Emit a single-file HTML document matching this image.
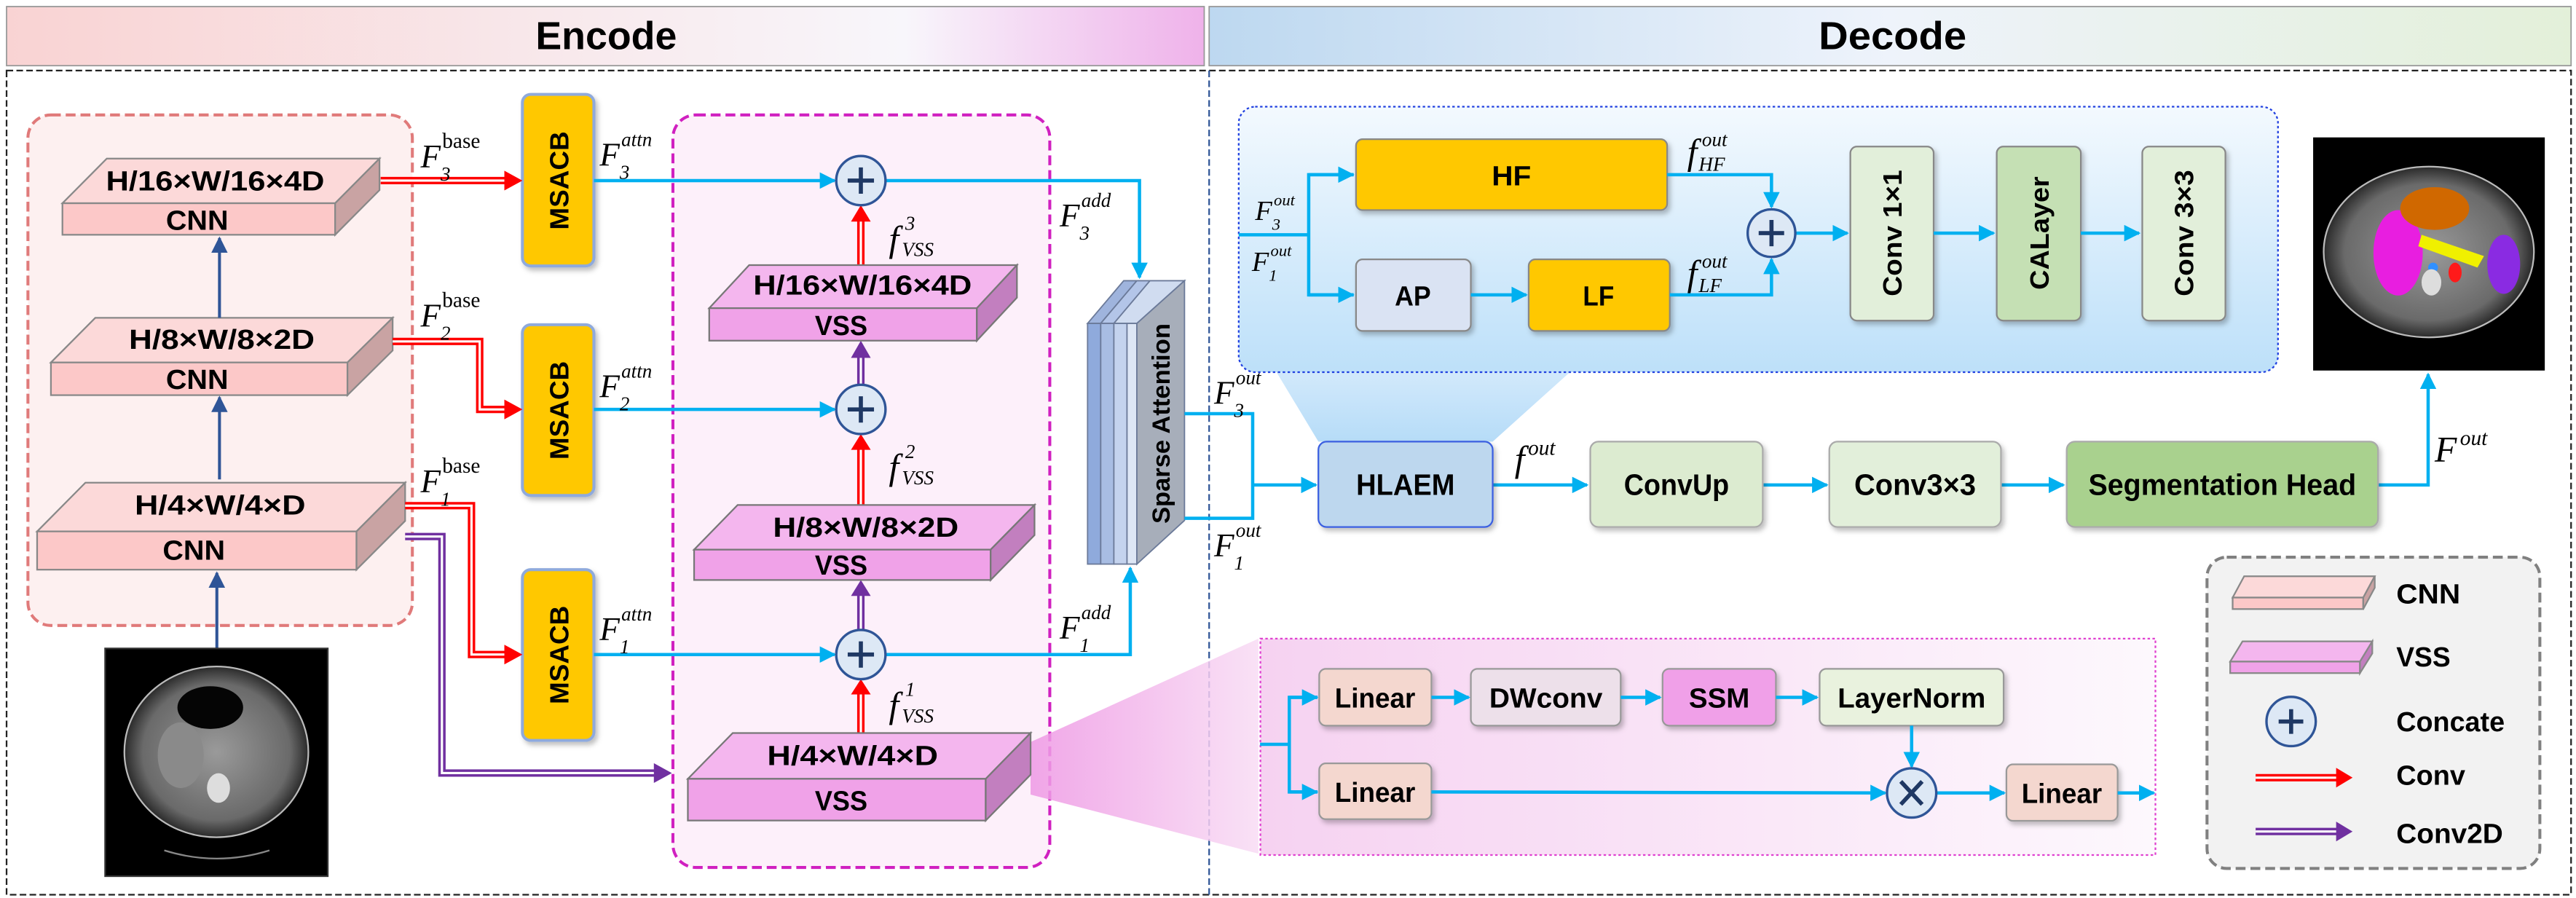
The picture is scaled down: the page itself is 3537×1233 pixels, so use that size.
<!DOCTYPE html>
<html><head><meta charset="utf-8"><style>
html,body{margin:0;padding:0;background:#fff}
svg{display:block}
.b{font-family:"Liberation Sans",sans-serif;font-weight:bold;fill:#000}
.m{font-family:"Liberation Serif",serif;font-style:italic;fill:#000}
</style></head><body>
<svg width="3537" height="1233" viewBox="0 0 1568 547" preserveAspectRatio="none" xmlns="http://www.w3.org/2000/svg">
<defs>
<linearGradient id="gE" x1="0" x2="1"><stop offset="0" stop-color="#f9d3d3"/><stop offset="0.75" stop-color="#f8f6fb"/><stop offset="1" stop-color="#efb2ea"/></linearGradient>
<linearGradient id="gD" x1="0" x2="1"><stop offset="0" stop-color="#bdd8f0"/><stop offset="0.5" stop-color="#eef3fb"/><stop offset="1" stop-color="#e3f0d9"/></linearGradient>
<linearGradient id="gH" x1="0" y1="0" x2="0" y2="1"><stop offset="0" stop-color="#f3f9fe"/><stop offset="1" stop-color="#bde0f9"/></linearGradient>
<linearGradient id="gM" x1="0" x2="1"><stop offset="0" stop-color="#f6d2f1"/><stop offset="1" stop-color="#fdf8fd"/></linearGradient>
<linearGradient id="gF" x1="0" x2="1"><stop offset="0" stop-color="#ee98e4"/><stop offset="1" stop-color="#f8dcf4"/></linearGradient>
<linearGradient id="gF2" x1="0" y1="1" x2="0" y2="0"><stop offset="0" stop-color="#b6dcf8"/><stop offset="1" stop-color="#d2e9fb"/></linearGradient>
<radialGradient id="gCT"><stop offset="0" stop-color="#9a9a9a"/><stop offset="0.8" stop-color="#6a6a6a"/><stop offset="1" stop-color="#2a2a2a"/></radialGradient>
<marker id="aB" markerWidth="10" markerHeight="10" refX="9" refY="5" orient="auto" markerUnits="userSpaceOnUse"><path d="M0,0 L10,5 L0,10 z" fill="#00b0f0"/></marker>
<marker id="aN" markerWidth="10" markerHeight="10" refX="9" refY="5" orient="auto" markerUnits="userSpaceOnUse"><path d="M0,0 L10,5 L0,10 z" fill="#2f5597"/></marker>
<filter id="sh" x="-10%" y="-10%" width="130%" height="140%"><feDropShadow dx="1.5" dy="2" stdDeviation="1.5" flood-color="#000" flood-opacity="0.25"/></filter>
</defs>

<rect x="4" y="4" width="729" height="36" fill="url(#gE)" stroke="#999" stroke-width="0.8"/>
<text class="b" x="369" y="30" font-size="24" text-anchor="middle" textLength="86" lengthAdjust="spacingAndGlyphs">Encode</text>
<rect x="736" y="4" width="829" height="36" fill="url(#gD)" stroke="#999" stroke-width="0.8"/>
<text class="b" x="1152" y="30" font-size="24" text-anchor="middle" textLength="90" lengthAdjust="spacingAndGlyphs">Decode</text>
<rect x="4" y="43" width="1561" height="502" fill="none" stroke="#222" stroke-width="1" stroke-dasharray="4,2"/>
<line x1="736" y1="43" x2="736" y2="545" stroke="#2f5597" stroke-width="1" stroke-dasharray="4,2"/>

<rect x="17" y="70" width="234" height="311" rx="14" fill="#fdf0f0" stroke="#e07a7a" stroke-width="1.8" stroke-dasharray="6,3"/>
<polygon points="38,123.8 65,96.6 231,96.6 204,123.8" fill="#fcd9d9" stroke="#888" stroke-width="1"/>
<rect x="38" y="123.8" width="166" height="19.2" fill="#fcc8c8" stroke="#888" stroke-width="1"/>
<polygon points="204,123.8 231,96.6 231,115.8 204,143" fill="#c9a3a3" stroke="#888" stroke-width="1"/>
<text class="b" x="131" y="116" font-size="17" text-anchor="middle" textLength="133" lengthAdjust="spacingAndGlyphs">H/16×W/16×4D</text>
<text class="b" x="120" y="140" font-size="17" text-anchor="middle" textLength="38" lengthAdjust="spacingAndGlyphs">CNN</text>
<polygon points="31,220.8 58,193.6 239,193.6 211.5,220.8" fill="#fcd9d9" stroke="#888" stroke-width="1"/>
<rect x="31" y="220.8" width="180.5" height="19.9" fill="#fcc8c8" stroke="#888" stroke-width="1"/>
<polygon points="211.5,220.8 239,193.6 239,213.5 211.5,240.7" fill="#c9a3a3" stroke="#888" stroke-width="1"/>
<text class="b" x="135" y="212.5" font-size="17" text-anchor="middle" textLength="113" lengthAdjust="spacingAndGlyphs">H/8×W/8×2D</text>
<text class="b" x="120" y="237" font-size="17" text-anchor="middle" textLength="38" lengthAdjust="spacingAndGlyphs">CNN</text>
<polygon points="22.6,323.7 52,294 246.6,294 217,323.7" fill="#fcd9d9" stroke="#888" stroke-width="1"/>
<rect x="22.6" y="323.7" width="194.4" height="23.3" fill="#fcc8c8" stroke="#888" stroke-width="1"/>
<polygon points="217,323.7 246.6,294 246.6,317.3 217,347" fill="#c9a3a3" stroke="#888" stroke-width="1"/>
<text class="b" x="134" y="313.5" font-size="17" text-anchor="middle" textLength="104" lengthAdjust="spacingAndGlyphs">H/4×W/4×D</text>
<text class="b" x="118" y="341" font-size="17" text-anchor="middle" textLength="38" lengthAdjust="spacingAndGlyphs">CNN</text>
<line x1="133.6" y1="193.6" x2="133.6" y2="145" stroke="#2f5597" stroke-width="1.8" marker-end="url(#aN)"/>
<line x1="133.6" y1="292" x2="133.6" y2="242" stroke="#2f5597" stroke-width="1.8" marker-end="url(#aN)"/>
<line x1="132" y1="395" x2="132" y2="349" stroke="#2f5597" stroke-width="1.8" marker-end="url(#aN)"/>
<rect x="64" y="395" width="135.5" height="138.7" fill="#000" stroke="#333"/>
<ellipse cx="131.7" cy="458" rx="56" ry="52" fill="url(#gCT)"/>
<ellipse cx="131.7" cy="458" rx="56" ry="52" fill="none" stroke="#bbb" stroke-width="1"/>
<ellipse cx="128" cy="431" rx="20" ry="13" fill="#050505"/>
<ellipse cx="110" cy="460" rx="14" ry="20" fill="#8a8a8a"/>
<ellipse cx="133" cy="480" rx="7" ry="9" fill="#ddd"/>
<path d="M100,518 Q132,528 164,518" stroke="#888" fill="none"/>

<g filter="url(#sh)">
<rect x="318" y="57.5" width="43.5" height="104.5" rx="5" fill="#ffc800" stroke="#8faadc" stroke-width="1.8"/>
<rect x="318" y="197.8" width="43.5" height="104" rx="5" fill="#ffc800" stroke="#8faadc" stroke-width="1.8"/>
<rect x="318" y="347" width="43.5" height="104" rx="5" fill="#ffc800" stroke="#8faadc" stroke-width="1.8"/>
</g>
<text class="b" font-size="16" text-anchor="middle" transform="translate(346,110) rotate(-90)" textLength="60" lengthAdjust="spacingAndGlyphs">MSACB</text>
<text class="b" font-size="16" text-anchor="middle" transform="translate(346,250) rotate(-90)" textLength="60" lengthAdjust="spacingAndGlyphs">MSACB</text>
<text class="b" font-size="16" text-anchor="middle" transform="translate(346,399) rotate(-90)" textLength="60" lengthAdjust="spacingAndGlyphs">MSACB</text>

<g fill="none" stroke-linejoin="miter">
<path d="M231.7,110 H310" stroke="#ff0000" stroke-width="4.5"/><path d="M231.7,110 H310" stroke="#fff" stroke-width="1.4"/>
<path d="M239,208 H292 V249.4 H310" stroke="#ff0000" stroke-width="4.5"/><path d="M239,208 H292 V249.4 H310" stroke="#fff" stroke-width="1.4"/>
<path d="M246.6,308 H287 V398.7 H310" stroke="#ff0000" stroke-width="4.5"/><path d="M246.6,308 H287 V398.7 H310" stroke="#fff" stroke-width="1.4"/>
<path d="M246.6,326.8 H269 V470.9 H401" stroke="#7030a0" stroke-width="4.5"/><path d="M246.6,326.8 H269 V470.9 H401" stroke="#fff" stroke-width="1.4"/>
</g>
<path d="M307,104 L318,110 L307,116z" fill="#ff0000"/>
<path d="M307,243.4 L318,249.4 L307,255.4z" fill="#ff0000"/>
<path d="M307,392.7 L318,398.7 L307,404.7z" fill="#ff0000"/>
<path d="M398,464.9 L409,470.9 L398,476.9z" fill="#7030a0"/>

<text class="m" x="256" y="102" font-size="20">F<tspan font-size="12" dy="8">3</tspan><tspan font-size="13" font-style="normal" dx="-5" dy="-20">base</tspan></text>
<text class="m" x="256" y="199" font-size="20">F<tspan font-size="12" dy="8">2</tspan><tspan font-size="13" font-style="normal" dx="-5" dy="-20">base</tspan></text>
<text class="m" x="256" y="300" font-size="20">F<tspan font-size="12" dy="8">1</tspan><tspan font-size="13" font-style="normal" dx="-5" dy="-20">base</tspan></text>

<rect x="409.6" y="70" width="229.4" height="458.4" rx="14" fill="#fdf0fa" stroke="#d020c0" stroke-width="1.8" stroke-dasharray="6,3"/>

<g stroke="#00b0f0" stroke-width="2" fill="none">
<line x1="361.5" y1="110" x2="508" y2="110" marker-end="url(#aB)"/>
<line x1="361.5" y1="249.4" x2="508" y2="249.4" marker-end="url(#aB)"/>
<line x1="361.5" y1="398.7" x2="508" y2="398.7" marker-end="url(#aB)"/>
<path d="M539,110 H693.6 V169" marker-end="url(#aB)"/>
<path d="M539,398.7 H688 V346" marker-end="url(#aB)"/>
</g>
<text class="m" x="365" y="101" font-size="20">F<tspan font-size="12" dy="8">3</tspan><tspan font-size="12" dx="-5" dy="-20">attn</tspan></text>
<text class="m" x="365" y="242" font-size="20">F<tspan font-size="12" dy="8">2</tspan><tspan font-size="12" dx="-5" dy="-20">attn</tspan></text>
<text class="m" x="365" y="390" font-size="20">F<tspan font-size="12" dy="8">1</tspan><tspan font-size="12" dx="-5" dy="-20">attn</tspan></text>
<text class="m" x="645" y="138" font-size="20">F<tspan font-size="12" dy="8">3</tspan><tspan font-size="12" dx="-5" dy="-20">add</tspan></text>
<text class="m" x="645" y="389" font-size="20">F<tspan font-size="12" dy="8">1</tspan><tspan font-size="12" dx="-5" dy="-20">add</tspan></text>

<g fill="none">
<path d="M524,161.5 V133" stroke="#ff0000" stroke-width="4.5"/><path d="M524,161.5 V133" stroke="#fff" stroke-width="1.4"/>
<path d="M524,307.6 V272" stroke="#ff0000" stroke-width="4.5"/><path d="M524,307.6 V272" stroke="#fff" stroke-width="1.4"/>
<path d="M524,446.5 V421" stroke="#ff0000" stroke-width="4.5"/><path d="M524,446.5 V421" stroke="#fff" stroke-width="1.4"/>
<path d="M524,234.4 V216" stroke="#7030a0" stroke-width="4.5"/><path d="M524,234.4 V216" stroke="#fff" stroke-width="1.4"/>
<path d="M524,383.7 V361" stroke="#7030a0" stroke-width="4.5"/><path d="M524,383.7 V361" stroke="#fff" stroke-width="1.4"/>
</g>
<path d="M518,135 L524,125 L530,135z" fill="#ff0000"/>
<path d="M518,274 L524,264.4 L530,274z" fill="#ff0000"/>
<path d="M518,423 L524,413.7 L530,423z" fill="#ff0000"/>
<path d="M518,218 L524,207.5 L530,218z" fill="#7030a0"/>
<path d="M518,363 L524,353.3 L530,363z" fill="#7030a0"/>
<g class="m">
<text class="m" x="541" y="153" font-size="22">f</text><text class="m" x="551" y="140" font-size="12">3</text><text class="m" x="549" y="156" font-size="12">VSS</text>
<text class="m" x="541" y="292" font-size="22">f</text><text class="m" x="551" y="279" font-size="12">2</text><text class="m" x="549" y="295" font-size="12">VSS</text>
<text class="m" x="541" y="437" font-size="22">f</text><text class="m" x="551" y="424" font-size="12">1</text><text class="m" x="549" y="440" font-size="12">VSS</text>
</g>

<g stroke="#2f5597" stroke-width="1.5">
<circle cx="524" cy="110" r="15" fill="#dde8f5"/><circle cx="524" cy="249.4" r="15" fill="#dde8f5"/><circle cx="524" cy="398.7" r="15" fill="#dde8f5"/>
</g>
<g stroke="#1f3864" stroke-width="2.5">
<path d="M516,110 H532 M524,102 V118"/><path d="M516,249.4 H532 M524,241.4 V257.4"/><path d="M516,398.7 H532 M524,390.7 V406.7"/>
</g>

<polygon points="431.7,187.7 456,161.5 619,161.5 594.6,187.7" fill="#f4b6ee" stroke="#777" stroke-width="1"/>
<rect x="431.7" y="187.7" width="162.9" height="19.8" fill="#f0a2e8" stroke="#777" stroke-width="1"/>
<polygon points="594.6,187.7 619,161.5 619,181.3 594.6,207.5" fill="#c27fbf" stroke="#777" stroke-width="1"/>
<text class="b" x="525" y="179.5" font-size="17" text-anchor="middle" textLength="133" lengthAdjust="spacingAndGlyphs">H/16×W/16×4D</text>
<text class="b" x="512" y="204" font-size="17" text-anchor="middle" textLength="32" lengthAdjust="spacingAndGlyphs">VSS</text>

<polygon points="422.5,334.8 449,307.6 629.7,307.6 603,334.8" fill="#f4b6ee" stroke="#777" stroke-width="1"/>
<rect x="422.5" y="334.8" width="180.5" height="18.5" fill="#f0a2e8" stroke="#777" stroke-width="1"/>
<polygon points="603,334.8 629.7,307.6 629.7,326 603,353.3" fill="#c27fbf" stroke="#777" stroke-width="1"/>
<text class="b" x="527" y="327" font-size="17" text-anchor="middle" textLength="113" lengthAdjust="spacingAndGlyphs">H/8×W/8×2D</text>
<text class="b" x="512" y="350" font-size="17" text-anchor="middle" textLength="32" lengthAdjust="spacingAndGlyphs">VSS</text>

<polygon points="627.3,452 766,389 766,520 627.3,484" fill="url(#gF)" opacity="0.85"/>
<polygon points="418.7,474.4 446,446.5 627.3,446.5 600,474.4" fill="#f4b6ee" stroke="#777" stroke-width="1"/>
<rect x="418.7" y="474.4" width="181.3" height="25.4" fill="#f0a2e8" stroke="#777" stroke-width="1"/>
<polygon points="600,474.4 627.3,446.5 627.3,471.9 600,499.8" fill="#c27fbf" stroke="#777" stroke-width="1"/>
<text class="b" x="519" y="466" font-size="17" text-anchor="middle" textLength="104" lengthAdjust="spacingAndGlyphs">H/4×W/4×D</text>
<text class="b" x="512" y="493.5" font-size="17" text-anchor="middle" textLength="32" lengthAdjust="spacingAndGlyphs">VSS</text>

<g stroke="#6b7a99" stroke-width="0.8">
<polygon points="662,197 684,171 692,171 670,197" fill="#9fb4dd"/>
<rect x="662" y="197" width="8" height="146.6" fill="#8faadc"/>
<polygon points="670,197 692,171 700,171 678,197" fill="#b3c5e8"/>
<rect x="670" y="197" width="8" height="146.6" fill="#a8bde3"/>
<polygon points="678,197 700,171 721,171 692,197" fill="#d0dcf0"/>
<rect x="678" y="197" width="8" height="146.6" fill="#c4d3ee"/>
<rect x="686" y="197" width="6" height="146.6" fill="#dde6f5"/>
<polygon points="692,197 721,171 721,317 692,343.6" fill="#a7aeba"/>
</g>
<text class="b" font-size="15" text-anchor="middle" transform="translate(712,258) rotate(-90)" textLength="122" lengthAdjust="spacingAndGlyphs">Sparse Attention</text>

<g stroke="#00b0f0" stroke-width="2" fill="none">
<path d="M721,252 H762.5 V315.7 H721"/>
<line x1="762.5" y1="295.4" x2="801" y2="295.4" marker-end="url(#aB)"/>
<line x1="908.6" y1="295.4" x2="966" y2="295.4" marker-end="url(#aB)"/>
<line x1="1073" y1="295.4" x2="1112" y2="295.4" marker-end="url(#aB)"/>
<line x1="1218" y1="295.4" x2="1256" y2="295.4" marker-end="url(#aB)"/>
<path d="M1447.5,295.4 H1478 V228" marker-end="url(#aB)"/>
</g>
<text class="m" x="739" y="246" font-size="20">F<tspan font-size="12" dy="8">3</tspan><tspan font-size="12" dx="-5" dy="-20">out</tspan></text>
<text class="m" x="739" y="339" font-size="20">F<tspan font-size="12" dy="8">1</tspan><tspan font-size="12" dx="-5" dy="-20">out</tspan></text>
<text class="m" x="922" y="287" font-size="22">f<tspan font-size="13" dx="2" dy="-10">out</tspan></text>
<text class="m" x="1482" y="281" font-size="22">F<tspan font-size="13" dx="2" dy="-10">out</tspan></text>

<polygon points="777,226.7 955.6,226.7 908.6,269 802.5,269" fill="url(#gF2)"/>
<rect x="754" y="65" width="632.6" height="161.7" rx="10" fill="url(#gH)" stroke="#2040e0" stroke-width="1" stroke-dasharray="1.5,1.5"/>
<g filter="url(#sh)">
<rect x="825.4" y="84.8" width="189.4" height="43.2" rx="4" fill="#ffc800" stroke="#888" stroke-width="1"/>
<rect x="825.4" y="158" width="69.9" height="43.6" rx="4" fill="#dae3f3" stroke="#888" stroke-width="1"/>
<rect x="930.5" y="158" width="85.9" height="43.6" rx="4" fill="#ffc800" stroke="#888" stroke-width="1"/>
<rect x="1126.3" y="89.3" width="50.7" height="106" rx="4" fill="#e2efda" stroke="#888" stroke-width="1"/>
<rect x="1215.4" y="89.3" width="51.2" height="106" rx="4" fill="#c5e0b4" stroke="#888" stroke-width="1"/>
<rect x="1304" y="89.3" width="50.6" height="106" rx="4" fill="#e2efda" stroke="#888" stroke-width="1"/>
</g>
<text class="b" x="920" y="113" font-size="17" text-anchor="middle" textLength="24" lengthAdjust="spacingAndGlyphs">HF</text>
<text class="b" x="860" y="186" font-size="17" text-anchor="middle" textLength="22" lengthAdjust="spacingAndGlyphs">AP</text>
<text class="b" x="973" y="186" font-size="17" text-anchor="middle" textLength="19" lengthAdjust="spacingAndGlyphs">LF</text>
<text class="b" font-size="16" text-anchor="middle" transform="translate(1157.5,142) rotate(-90)" textLength="77" lengthAdjust="spacingAndGlyphs">Conv 1×1</text>
<text class="b" font-size="16" text-anchor="middle" transform="translate(1247,142) rotate(-90)" textLength="69" lengthAdjust="spacingAndGlyphs">CALayer</text>
<text class="b" font-size="16" text-anchor="middle" transform="translate(1335,142) rotate(-90)" textLength="77" lengthAdjust="spacingAndGlyphs">Conv 3×3</text>
<g stroke="#00b0f0" stroke-width="2" fill="none">
<path d="M754,143 H796.6"/>
<path d="M824,106.4 H796.6 V179.6 H824"/>
<line x1="796.6" y1="106.4" x2="823.5" y2="106.4" marker-end="url(#aB)"/>
<line x1="796.6" y1="179.6" x2="823.5" y2="179.6" marker-end="url(#aB)"/>
<line x1="895.3" y1="179.6" x2="929" y2="179.6" marker-end="url(#aB)"/>
<path d="M1014.8,106.4 H1078.3 V126" marker-end="url(#aB)"/>
<path d="M1016.4,179.6 H1078.3 V158" marker-end="url(#aB)"/>
<line x1="1093" y1="142" x2="1124.5" y2="142" marker-end="url(#aB)"/>
<line x1="1177" y1="142" x2="1213.5" y2="142" marker-end="url(#aB)"/>
<line x1="1266.6" y1="142" x2="1302" y2="142" marker-end="url(#aB)"/>
</g>
<circle cx="1078.3" cy="142" r="14.5" fill="#dde8f5" stroke="#2f5597" stroke-width="1.5"/>
<path d="M1070.5,142 H1086 M1078.3,134 V150" stroke="#1f3864" stroke-width="2.5"/>
<text class="m" x="764" y="134" font-size="17">F<tspan font-size="10" dy="6">3</tspan><tspan font-size="10" dx="-4" dy="-15">out</tspan></text>
<text class="m" x="762" y="165" font-size="17">F<tspan font-size="10" dy="6">1</tspan><tspan font-size="10" dx="-4" dy="-15">out</tspan></text>
<text class="m" x="1027" y="100" font-size="22">f</text><text class="m" x="1036" y="89" font-size="12">out</text><text class="m" x="1034" y="104" font-size="12">HF</text>
<text class="m" x="1027" y="174" font-size="22">f</text><text class="m" x="1036" y="163" font-size="12">out</text><text class="m" x="1034" y="178" font-size="12">LF</text>

<g filter="url(#sh)">
<rect x="802.5" y="269" width="106.1" height="52" rx="5" fill="#bdd7ee" stroke="#3a5fe0" stroke-width="1"/>
<rect x="968" y="269" width="105" height="52" rx="5" fill="#dcebd0" stroke="#aaa" stroke-width="1"/>
<rect x="1113.5" y="269" width="104.5" height="52" rx="5" fill="#e2efda" stroke="#aaa" stroke-width="1"/>
<rect x="1258" y="269" width="189.5" height="52" rx="5" fill="#a9d18e" stroke="#aaa" stroke-width="1"/>
</g>
<text class="b" x="855.5" y="301.5" font-size="18" text-anchor="middle" textLength="60" lengthAdjust="spacingAndGlyphs">HLAEM</text>
<text class="b" x="1020.5" y="301.5" font-size="18" text-anchor="middle" textLength="64" lengthAdjust="spacingAndGlyphs">ConvUp</text>
<text class="b" x="1165.7" y="301.5" font-size="18" text-anchor="middle" textLength="74" lengthAdjust="spacingAndGlyphs">Conv3×3</text>
<text class="b" x="1352.7" y="301.5" font-size="18" text-anchor="middle" textLength="163" lengthAdjust="spacingAndGlyphs">Segmentation Head</text>

<rect x="1408" y="83.7" width="141" height="142" fill="#000"/>
<ellipse cx="1478.4" cy="153.5" rx="64" ry="52" fill="url(#gCT)"/>
<ellipse cx="1478.4" cy="153.5" rx="64" ry="52" fill="none" stroke="#bbb" stroke-width="1"/>
<ellipse cx="1459.7" cy="154" rx="15" ry="26" fill="#e81ee0"/>
<ellipse cx="1482" cy="127" rx="21" ry="13" fill="#d06800"/>
<ellipse cx="1524" cy="161" rx="10" ry="18" fill="#8a2be2"/>
<path d="M1474,143 L1512,156 L1508,163 L1472,150z" fill="#f0f000"/>
<ellipse cx="1494.4" cy="166" rx="4" ry="6" fill="#ff1a1a"/>
<circle cx="1481" cy="163" r="3" fill="#3090ff"/>
<ellipse cx="1480" cy="172" rx="6" ry="8" fill="#ddd"/>

<rect x="767.2" y="389" width="544.8" height="131.8" fill="url(#gM)" stroke="#e040d0" stroke-width="1" stroke-dasharray="1.5,1.5"/>
<g filter="url(#sh)">
<rect x="803" y="407.4" width="68.3" height="34.6" rx="4" fill="#f4d7cf" stroke="#999" stroke-width="1"/>
<rect x="895.3" y="407.4" width="91.2" height="34.6" rx="4" fill="#ede0ea" stroke="#999" stroke-width="1"/>
<rect x="1012" y="407.4" width="69" height="34.6" rx="4" fill="#f0a0e8" stroke="#999" stroke-width="1"/>
<rect x="1107.6" y="407.4" width="112" height="34.6" rx="4" fill="#e9f2de" stroke="#999" stroke-width="1"/>
<rect x="803" y="465" width="68.3" height="34" rx="4" fill="#f4d7cf" stroke="#999" stroke-width="1"/>
<rect x="1221.3" y="465.6" width="67.7" height="34.4" rx="4" fill="#f4d7cf" stroke="#999" stroke-width="1"/>
</g>
<text class="b" x="837" y="431" font-size="17" text-anchor="middle" textLength="49" lengthAdjust="spacingAndGlyphs">Linear</text>
<text class="b" x="941" y="431" font-size="17" text-anchor="middle" textLength="69" lengthAdjust="spacingAndGlyphs">DWconv</text>
<text class="b" x="1046.5" y="431" font-size="17" text-anchor="middle" textLength="37" lengthAdjust="spacingAndGlyphs">SSM</text>
<text class="b" x="1163.6" y="431" font-size="17" text-anchor="middle" textLength="90" lengthAdjust="spacingAndGlyphs">LayerNorm</text>
<text class="b" x="837" y="488.5" font-size="17" text-anchor="middle" textLength="49" lengthAdjust="spacingAndGlyphs">Linear</text>
<text class="b" x="1255" y="489" font-size="17" text-anchor="middle" textLength="49" lengthAdjust="spacingAndGlyphs">Linear</text>
<g stroke="#00b0f0" stroke-width="2" fill="none">
<path d="M767,453.4 H784.8"/>
<path d="M802,424.8 H784.8 V482.4 H802"/>
<line x1="784.8" y1="424.8" x2="801.5" y2="424.8" marker-end="url(#aB)"/>
<line x1="784.8" y1="482.4" x2="801.5" y2="482.4" marker-end="url(#aB)"/>
<line x1="871.3" y1="424.8" x2="894" y2="424.8" marker-end="url(#aB)"/>
<line x1="986.5" y1="424.8" x2="1010.5" y2="424.8" marker-end="url(#aB)"/>
<line x1="1081" y1="424.8" x2="1106" y2="424.8" marker-end="url(#aB)"/>
<line x1="1163.6" y1="442" x2="1163.6" y2="467" marker-end="url(#aB)"/>
<line x1="871.3" y1="482.4" x2="1147.5" y2="483" marker-end="url(#aB)"/>
<line x1="1178.6" y1="483" x2="1220" y2="483" marker-end="url(#aB)"/>
<line x1="1289" y1="483" x2="1311" y2="483" marker-end="url(#aB)"/>
</g>
<circle cx="1163.6" cy="483" r="15" fill="#dde8f5" stroke="#2f5597" stroke-width="1.5"/>
<path d="M1157,476 L1170,490 M1170,476 L1157,490" stroke="#1f3864" stroke-width="2.5"/>

<rect x="1343.4" y="339.4" width="202.6" height="189.6" rx="12" fill="#f2f2f2" stroke="#808080" stroke-width="1.8" stroke-dasharray="6,3"/>
<polygon points="1359,364 1366,351 1445.5,351 1438.5,364" fill="#fcd9d9" stroke="#888"/>
<rect x="1359" y="364" width="79.5" height="7" fill="#fcc8c8" stroke="#888"/>
<polygon points="1438.5,364 1445.5,351 1445.5,358 1438.5,371" fill="#c9a3a3" stroke="#888"/>
<polygon points="1357.5,403 1365,390.7 1444,390.7 1436.5,403" fill="#f4b6ee" stroke="#888"/>
<rect x="1357.5" y="403" width="79" height="7" fill="#f0a2e8" stroke="#888"/>
<polygon points="1436.5,403 1444,390.7 1444,398 1436.5,410" fill="#c27fbf" stroke="#888"/>
<circle cx="1394.6" cy="439.5" r="15" fill="#dde8f5" stroke="#2f5597" stroke-width="1.5"/>
<path d="M1387,439.5 H1402 M1394.6,432 V447" stroke="#1f3864" stroke-width="2.5"/>
<path d="M1373,473.7 H1424" stroke="#ff0000" stroke-width="4.5"/><path d="M1373,473.7 H1424" stroke="#fff" stroke-width="1.4"/>
<path d="M1422,467.7 L1432,473.7 L1422,479.7z" fill="#ff0000"/>
<path d="M1373,506.5 H1424" stroke="#7030a0" stroke-width="4.5"/><path d="M1373,506.5 H1424" stroke="#fff" stroke-width="1.4"/>
<path d="M1422,500.5 L1432,506.5 L1422,512.5z" fill="#7030a0"/>
<text class="b" x="1458.6" y="367.5" font-size="17" textLength="39" lengthAdjust="spacingAndGlyphs">CNN</text>
<text class="b" x="1458.6" y="406" font-size="17" textLength="33" lengthAdjust="spacingAndGlyphs">VSS</text>
<text class="b" x="1458.6" y="445.5" font-size="17" textLength="66" lengthAdjust="spacingAndGlyphs">Concate</text>
<text class="b" x="1458.6" y="478" font-size="17" textLength="42" lengthAdjust="spacingAndGlyphs">Conv</text>
<text class="b" x="1458.6" y="513.5" font-size="17" textLength="65" lengthAdjust="spacingAndGlyphs">Conv2D</text>
</svg>
</body></html>
